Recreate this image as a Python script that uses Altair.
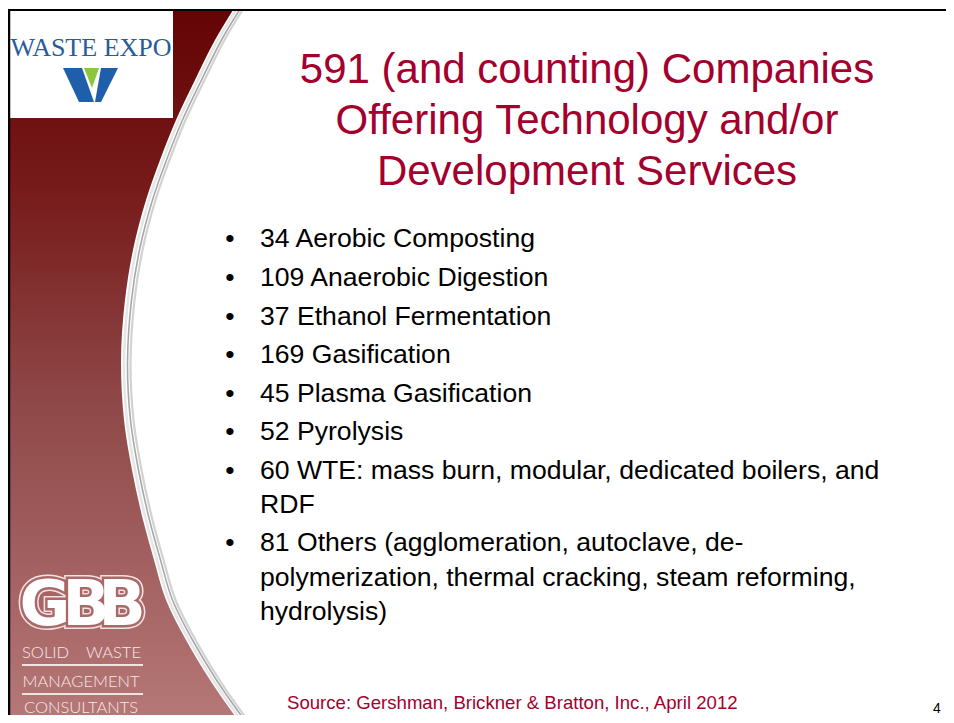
import altair as alt
import pandas as pd

# ---------------- data ----------------
title_lines = ["591 (and counting) Companies",
               "Offering Technology and/or",
               "Development Services"]
title_baselines = [83, 134, 185]

body_lines = ["34 Aerobic Composting",
              "109 Anaerobic Digestion",
              "37 Ethanol Fermentation",
              "169 Gasification",
              "45 Plasma Gasification",
              "52 Pyrolysis",
              "60 WTE: mass burn, modular, dedicated boilers, and",
              "RDF",
              "81 Others (agglomeration, autoclave, de-",
              "polymerization, thermal cracking, steam reforming,",
              "hydrolysis)"]
body_baselines = [247, 286, 324.5, 363, 401.5, 440, 478.5, 513, 551, 585.5, 620]
bullet_flags = [1, 1, 1, 1, 1, 1, 1, 0, 1, 0, 0]

source_text = ["Source: Gershman, Brickner & Bratton, Inc., April 2012"]
page_number = ["4"]

# decorative sidebar edge (page pixel coordinates)
edge_y = [10, 40, 80, 120, 160, 200, 250, 300, 363, 420, 470, 520, 560, 600, 640, 680, 723]
edge_x = [233, 215, 195, 176, 160, 146, 133, 125, 121, 124, 132, 143, 154, 166, 186, 210, 240]

# W logo polygons: (group, y, x_left, x_right)
logo_group = ["L", "L", "G", "G", "R", "R"]
logo_y = [68, 102, 68, 88, 68, 102]
logo_xl = [63, 79, 84, 92, 101, 95]
logo_xr = [82, 94, 99, 92, 118, 101]
logo_color = ["#1f5ea8", "#1f5ea8", "#8cc63f", "#8cc63f", "#1f5ea8", "#1f5ea8"]

# GBB letters
gbb_letters = ["G", "B", "B"]
gbb_x = [45, 86, 122]

# ---------------- scales ----------------
W, H = 938, 707
X0, Y0 = 8, 8
xs = alt.Scale(domain=[X0, X0 + W], nice=False, zero=False)
ys = alt.Scale(domain=[Y0, Y0 + H], nice=False, zero=False, reverse=True)


def X(f, **kw):
    return alt.X(f"{f}:Q", scale=xs, axis=None, **kw)


def Y(f, **kw):
    return alt.Y(f"{f}:Q", scale=ys, axis=None, **kw)


def X2(f):
    return alt.X2(f"{f}")


def Y2(f):
    return alt.Y2(f"{f}")


FONT = "Liberation Sans"
RED = "#a3002d"

# sidebar gradient area
side = pd.DataFrame({"y": edge_y, "x0": [X0] * len(edge_y), "xe": edge_x})
sidebar = alt.Chart(side).mark_area(
    orient="horizontal", interpolate="monotone",
    color=alt.Gradient(gradient="linear", x1=0, x2=0, y1=0, y2=1,
                       stops=[alt.GradientStop(offset=0, color="#640404"),
                              alt.GradientStop(offset=0.25, color="#771a1a"),
                              alt.GradientStop(offset=0.55, color="#8f4848"),
                              alt.GradientStop(offset=1, color="#b67878")])
).encode(y=Y("y"), x=X("x0"), x2=X2("xe"))

# swoosh lines along the edge
swoosh_layers = []
for off, col, sw in [(3, "#e6e6e6", 2.5), (6.5, "#a8a8a8", 1.6), (9.5, "#d2d2d2", 2.2)]:
    d = pd.DataFrame({"y": edge_y, "x": [v + off for v in edge_x], "o": list(range(len(edge_y)))})
    swoosh_layers.append(
        alt.Chart(d).mark_line(color=col, strokeWidth=sw, interpolate="catmull-rom")
        .encode(x=X("x"), y=Y("y"), order="o:Q"))

# frame lines
frame_top = alt.Chart(pd.DataFrame({"x": [8], "x2": [954], "y": [10]})).mark_rule(
    color="#000000", strokeWidth=2.2).encode(x=X("x"), x2=X2("x2"), y=Y("y"))
frame_left = alt.Chart(pd.DataFrame({"x": [9], "y": [9], "y2": [723]})).mark_rule(
    color="#000000", strokeWidth=2.5).encode(x=X("x"), y=Y("y"), y2=Y2("y2"))

# WASTE EXPO white box
box = alt.Chart(pd.DataFrame({"x": [10], "x2": [173], "y": [11], "y2": [118]})).mark_rect(
    color="#ffffff").encode(x=X("x"), x2=X2("x2"), y=Y("y"), y2=Y2("y2"))
expo_text = alt.Chart(pd.DataFrame({"x": [91], "y": [56], "t": ["WASTE EXPO"]})).mark_text(
    font="Liberation Serif", fontSize=26, color="#285c98", align="center", baseline="alphabetic"
).encode(x=X("x"), y=Y("y"), text="t:N")

logo = pd.DataFrame({"g": logo_group, "y": logo_y, "xl": logo_xl, "xr": logo_xr, "c": logo_color})
logo_marks = alt.Chart(logo).mark_area(orient="horizontal", interpolate="linear").encode(
    y=Y("y"), x=X("xl"), x2=X2("xr"), detail="g:N",
    color=alt.Color("c:N", scale=None))

# GBB logo
gbb = pd.DataFrame({"x": gbb_x, "y": [625] * 3, "t": gbb_letters})
GF = dict(font="DejaVu Sans", fontWeight="bold", fontSize=62, align="center", baseline="alphabetic")
gbb_outer = alt.Chart(gbb).mark_text(fill="#f4e2e2", stroke="#f4e2e2", strokeWidth=8, **GF
                                     ).encode(x=X("x"), y=Y("y"), text="t:N")
gbb_mid = alt.Chart(gbb).mark_text(fill="#ab6868", stroke="#ab6868", strokeWidth=5, **GF
                                   ).encode(x=X("x"), y=Y("y"), text="t:N")
gbb_fill = alt.Chart(gbb).mark_text(fill="#ffffff", **GF).encode(x=X("x"), y=Y("y"), text="t:N")

sub = pd.DataFrame({"x": [22, 141, 81, 81],
                    "y": [658, 658, 687, 712.5],
                    "t": ["SOLID", "WASTE", "MANAGEMENT", "CONSULTANTS"],
                    "a": ["left", "right", "center", "center"]})
sub_marks = []
for a in ["left", "right", "center"]:
    sub_marks.append(alt.Chart(sub[sub.a == a]).mark_text(
        font="Lato", fontWeight=300, fontSize=16.5, color="#f6e8e8", align=a, baseline="alphabetic"
    ).encode(x=X("x"), y=Y("y"), text="t:N"))
sub_rules = alt.Chart(pd.DataFrame({"x": [22, 22], "x2": [143, 143], "y": [665, 694]})).mark_rule(
    color="#f3e2e2", strokeWidth=2).encode(x=X("x"), x2=X2("x2"), y=Y("y"))

# title
tdf = pd.DataFrame({"x": [587] * 3, "y": title_baselines, "t": title_lines})
title = alt.Chart(tdf).mark_text(font=FONT, fontSize=42, color=RED, align="center",
                                 baseline="alphabetic").encode(x=X("x"), y=Y("y"), text="t:N")

# body
bdf = pd.DataFrame({"x": [260] * len(body_lines), "y": body_baselines, "t": body_lines})
body = alt.Chart(bdf).mark_text(font=FONT, fontSize=26.6, color="#000000", align="left",
                                baseline="alphabetic").encode(x=X("x"), y=Y("y"), text="t:N")
bul = pd.DataFrame({"x": [230] * sum(bullet_flags),
                    "y": [b for b, f in zip(body_baselines, bullet_flags) if f],
                    "t": ["•"] * sum(bullet_flags)})
bullets = alt.Chart(bul).mark_text(font=FONT, fontSize=26.6, color="#000000", align="center",
                                   baseline="alphabetic").encode(x=X("x"), y=Y("y"), text="t:N")

src = alt.Chart(pd.DataFrame({"x": [287], "y": [709], "t": source_text})).mark_text(
    font=FONT, fontSize=18.6, color=RED, align="left", baseline="alphabetic"
).encode(x=X("x"), y=Y("y"), text="t:N")
pg = alt.Chart(pd.DataFrame({"x": [937], "y": [712.5], "t": page_number})).mark_text(
    font=FONT, fontSize=14, color="#000000", align="center", baseline="alphabetic"
).encode(x=X("x"), y=Y("y"), text="t:N")

chart = alt.layer(
    sidebar, *swoosh_layers, box, expo_text, logo_marks,
    gbb_outer, gbb_mid, gbb_fill, *sub_marks, sub_rules,
    frame_top, frame_left, title, body, bullets, src, pg
).properties(width=W, height=H, padding=0, autosize=alt.AutoSizeParams(type="none")
).configure_view(stroke=None)

chart.save("out.html", embed_options={"renderer": "svg", "actions": False})
